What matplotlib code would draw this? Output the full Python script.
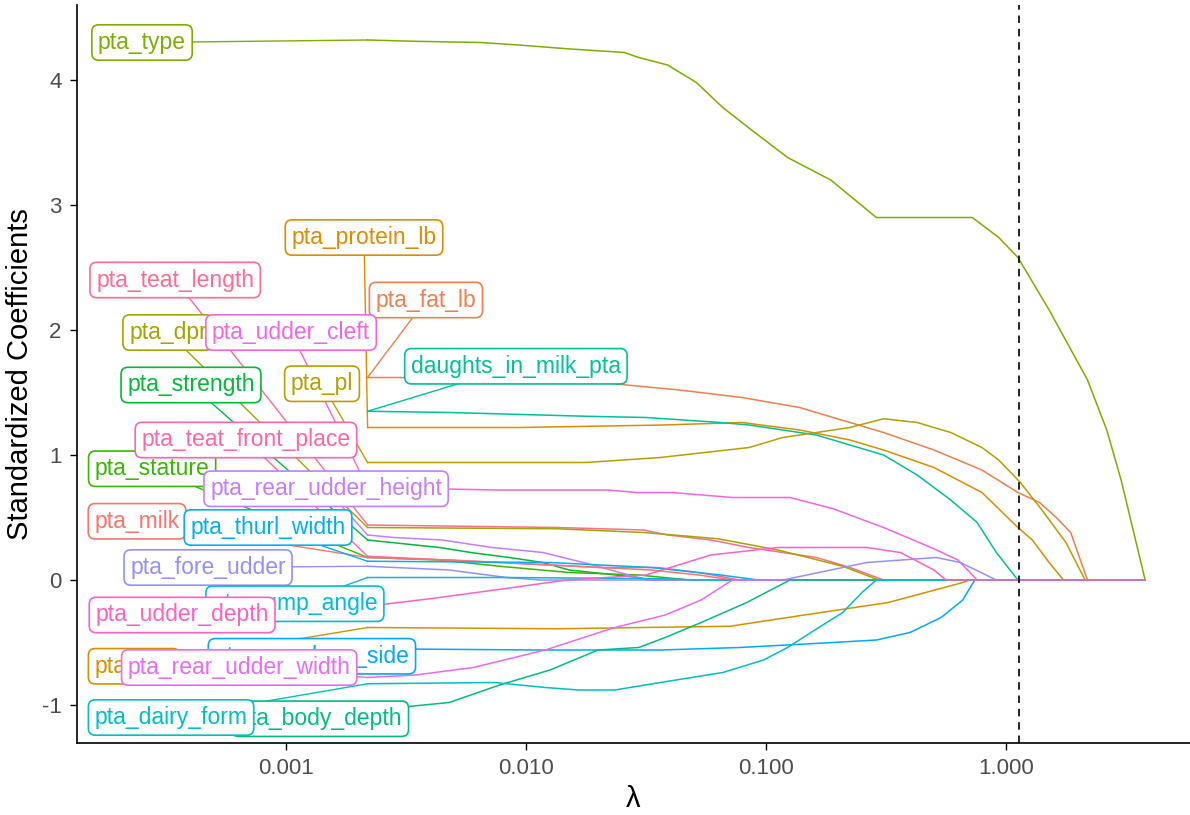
"""Lasso coefficient paths (standardized) vs lambda, with repelled-style labels."""
import numpy as np
import matplotlib
matplotlib.use("Agg")
import matplotlib.pyplot as plt

plt.rcParams["font.family"] = ["Liberation Sans", "DejaVu Sans"]

LOGLAM_MAX = 0.58     # right end of the path (all coefficients 0 there)
LOGLAM_CV = 0.054     # dashed vertical line

# --- path knots: log10(lambda) and standardized coefficient -------------------
type_loglam = [-2.66, -2.47, -2.19, -2.03, -1.83, -1.59, -1.53, -1.41, -1.29, -1.18, -1.06,
               -0.91, -0.73, -0.54, -0.14, -0.03, 0.05, 0.18, 0.34, 0.42, 0.48, 0.52, 0.58]
type_coef = [4.32, 4.31, 4.30, 4.28, 4.25, 4.22, 4.18, 4.12, 3.98, 3.78, 3.60,
             3.38, 3.20, 2.90, 2.90, 2.74, 2.58, 2.16, 1.60, 1.20, 0.80, 0.48, 0.0]

fat_loglam = [-2.66, -2.53, -1.69, -1.36, -1.10, -0.86, -0.65, -0.51, -0.30, -0.10,
              0.05, 0.14, 0.21, 0.27, 0.31, 0.34]
fat_coef = [1.62, 1.62, 1.58, 1.52, 1.46, 1.38, 1.26, 1.18, 1.04, 0.88,
            0.70, 0.62, 0.50, 0.38, 0.16, 0.0]

protein_loglam = [-2.66, -2.03, -1.43, -1.10, -0.86, -0.65, -0.51, -0.30, -0.10, 0.05, 0.11, 0.18, 0.24]
protein_coef = [1.22, 1.22, 1.24, 1.26, 1.20, 1.12, 1.04, 0.90, 0.70, 0.42, 0.32, 0.14, 0.0]

daughts_loglam = [-2.66, -2.32, -1.75, -1.50, -1.19, -1.07, -0.79, -0.65, -0.51, -0.37,
                  -0.23, -0.12, -0.04, 0.05]
daughts_coef = [1.35, 1.34, 1.31, 1.30, 1.26, 1.24, 1.16, 1.08, 1.00, 0.84,
                0.64, 0.46, 0.22, 0.0]

pl_loglam = [-2.66, -1.75, -1.44, -1.07, -0.93, -0.79, -0.65, -0.51, -0.37, -0.23,
             -0.10, -0.03, 0.06, 0.15, 0.25, 0.33]
pl_coef = [0.94, 0.94, 0.98, 1.06, 1.14, 1.18, 1.22, 1.29, 1.26, 1.18,
           1.06, 0.96, 0.78, 0.56, 0.30, 0.0]

udder_cleft_loglam = [-2.66, -2.12, -1.66, -1.54, -1.39, -1.14, -0.90, -0.72, -0.51, -0.30, -0.20, -0.12]
udder_cleft_coef = [0.74, 0.72, 0.72, 0.70, 0.70, 0.66, 0.66, 0.57, 0.42, 0.25, 0.16, 0.0]

teat_length_loglam = [-2.66, -1.87, -1.51, -1.41, -1.23, -1.07, -0.79, -0.65, -0.51]
teat_length_coef = [0.44, 0.42, 0.40, 0.36, 0.32, 0.26, 0.18, 0.10, 0.0]

dpr_loglam = [-2.66, -1.87, -1.51, -1.20, -0.95, -0.68, -0.53]
dpr_coef = [0.42, 0.41, 0.38, 0.33, 0.24, 0.11, 0.0]

rear_udder_height_loglam = [-2.66, -2.55, -2.35, -2.14, -1.93, -1.72, -1.61, -1.50]
rear_udder_height_coef = [0.36, 0.34, 0.32, 0.26, 0.22, 0.12, 0.06, 0.0]

strength_loglam = [-2.66, -2.36, -2.23, -2.07, -1.93, -1.82, -1.53, -1.48]
strength_coef = [0.32, 0.26, 0.22, 0.18, 0.14, 0.08, 0.02, 0.0]

stature_loglam = [-2.66, -2.36, -2.11, -1.82, -1.53, -1.32]
stature_coef = [0.18, 0.16, 0.11, 0.06, 0.04, 0.0]

milk_loglam = [-2.66, -2.32, -1.90, -1.48, -1.28, -1.14]
milk_coef = [0.18, 0.16, 0.12, 0.08, 0.04, 0.0]

teat_front_loglam = [-2.66, -2.11, -1.69, -1.45, -1.28, -1.11]
teat_front_coef = [0.19, 0.14, 0.10, 0.10, 0.06, 0.0]

thurl_loglam = [-2.66, -1.90, -1.48, -1.19, -1.03]
thurl_coef = [0.15, 0.14, 0.10, 0.04, 0.0]

fore_udder_loglam = [-2.66, -2.32, -2.08, -1.94, -0.93, -0.58, -0.29, -0.19, -0.04]
fore_udder_coef = [0.11, 0.08, 0.02, 0.0, 0.0, 0.14, 0.18, 0.14, 0.0]

rump_angle_loglam = [-2.66, -2.08, -1.43, -1.28]
rump_angle_coef = [0.02, 0.02, 0.01, 0.0]

udder_depth_loglam = [-2.66, -2.40, -2.13, -1.83, -1.50, -1.23, -0.95, -0.58, -0.44, -0.30, -0.25]
udder_depth_coef = [-0.21, -0.15, -0.08, 0.0, 0.04, 0.20, 0.26, 0.26, 0.22, 0.08, 0.0]

scs_loglam = [-2.66, -1.87, -1.15, -0.84, -0.49, -0.18, -0.15]
scs_coef = [-0.38, -0.39, -0.37, -0.28, -0.18, -0.02, 0.0]

rear_legs_loglam = [-2.66, -1.94, -1.44, -1.11, -0.72, -0.54, -0.40, -0.27, -0.18, -0.13]
rear_legs_coef = [-0.55, -0.56, -0.56, -0.54, -0.50, -0.48, -0.42, -0.30, -0.16, 0.0]

rear_udder_width_loglam = [-2.66, -2.46, -2.22, -1.92, -1.63, -1.42, -1.27, -1.14]
rear_udder_width_coef = [-0.78, -0.76, -0.70, -0.56, -0.38, -0.28, -0.16, 0.0]

body_depth_loglam = [-2.66, -2.48, -2.32, -2.11, -1.90, -1.70, -1.53, -1.42, -1.27, -1.08, -0.90]
body_depth_coef = [-1.06, -1.01, -0.98, -0.84, -0.72, -0.56, -0.54, -0.46, -0.34, -0.18, 0.0]

dairy_form_loglam = [-2.66, -2.13, -1.92, -1.78, -1.63, -1.44, -1.18, -1.01, -0.91, -0.78,
                     -0.68, -0.60, -0.54]
dairy_form_coef = [-0.83, -0.82, -0.86, -0.88, -0.88, -0.82, -0.74, -0.64, -0.54, -0.38,
                   -0.26, -0.10, 0.0]

# name, knots, line colour, label centre (log10 lambda, coef)
PATHS = [
    ("pta_type", type_loglam, type_coef, "#7CAE00", (-3.60, 4.30)),
    ("pta_protein_lb", protein_loglam, protein_coef, "#E08B00", (-2.675, 2.74)),
    ("pta_fat_lb", fat_loglam, fat_coef, "#F07E4F", (-2.417, 2.24)),
    ("pta_teat_length", teat_length_loglam, teat_length_coef, "#FF6C91", (-3.462, 2.40)),
    ("pta_dpr", dpr_loglam, dpr_coef, "#A3A500", (-3.492, 1.98)),
    ("pta_udder_cleft", udder_cleft_loglam, udder_cleft_coef, "#F564E3", (-2.979, 1.98)),
    ("daughts_in_milk_pta", daughts_loglam, daughts_coef, "#00C19A", (-2.042, 1.71)),
    ("pta_strength", strength_loglam, strength_coef, "#00BA38", (-3.396, 1.56)),
    ("pta_pl", pl_loglam, pl_coef, "#B79F00", (-2.850, 1.57)),
    ("pta_stature", stature_loglam, stature_coef, "#39B600", (-3.558, 0.89)),
    ("pta_teat_front_place", teat_front_loglam, teat_front_coef, "#FF65AC", (-3.167, 1.12)),
    ("pta_rear_udder_height", rear_udder_height_loglam, rear_udder_height_coef, "#C77CFF", (-2.833, 0.73)),
    ("pta_milk", milk_loglam, milk_coef, "#F8766D", (-3.621, 0.47)),
    ("pta_thurl_width", thurl_loglam, thurl_coef, "#00B0F6", (-3.075, 0.42)),
    ("pta_fore_udder", fore_udder_loglam, fore_udder_coef, "#9590FF", (-3.325, 0.10)),
    ("pta_rump_angle", rump_angle_loglam, rump_angle_coef, "#00BCD8", (-2.963, -0.19)),
    ("pta_scs", scs_loglam, scs_coef, "#D89000", (-3.633, -0.69)),
    ("pta_rear_legs_side", rear_legs_loglam, rear_legs_coef, "#00A9FF", (-2.892, -0.61)),
    ("pta_rear_udder_width", rear_udder_width_loglam, rear_udder_width_coef, "#E76BF3", (-3.195, -0.70)),
    ("pta_body_depth", body_depth_loglam, body_depth_coef, "#00BF7D", (-2.858, -1.11)),
    ("pta_dairy_form", dairy_form_loglam, dairy_form_coef, "#00BFC4", (-3.479, -1.10)),
    ("pta_udder_depth", udder_depth_loglam, udder_depth_coef, "#FF61C3", (-3.433, -0.28)),
]

fig = plt.figure(figsize=(11.9, 8.15), dpi=100)
ax = fig.add_axes([77 / 1190, 1 - 743 / 815, 1113 / 1190, 738 / 815])

for name, loglam, coef, color, _ in PATHS:
    lam = 10 ** np.append(loglam, LOGLAM_MAX)
    ax.plot(lam, np.append(coef, 0.0), color=color, lw=1.1, zorder=2)

ax.axvline(10 ** LOGLAM_CV, color="black", lw=1.2, ls=(0, (4.5, 3.5)), zorder=3)

# leaders (under every label), then labels in draw order
for name, loglam, coef, color, (lx, ly) in PATHS:
    ax.plot([10 ** lx, 10 ** loglam[0]], [ly, coef[0]], color=color, lw=1.0, zorder=4)
for i, (name, loglam, coef, color, (lx, ly)) in enumerate(PATHS):
    ax.text(10 ** lx, ly, name, color=color, fontsize=16.5, ha="center", va="center",
            zorder=10 + i,
            bbox=dict(boxstyle="round,pad=0.27,rounding_size=0.3", fc="white", ec=color, lw=1.2))

ax.set_xscale("log")
ax.set_xlim(10 ** -3.871, 10 ** 0.767)
ax.set_ylim(-1.304, 4.6)
ax.set_xticks([0.001, 0.01, 0.1, 1.0])
ax.set_xticklabels(["0.001", "0.010", "0.100", "1.000"])
ax.xaxis.set_minor_locator(matplotlib.ticker.NullLocator())
ax.set_yticks([-1, 0, 1, 2, 3, 4])
ax.set_yticklabels(["-1", "0", "1", "2", "3", "4"])
ax.tick_params(axis="both", labelsize=16, labelcolor="#4D4D4D", color="black",
               length=5, width=1.0, pad=6)
for side in ("top", "right"):
    ax.spines[side].set_visible(False)
for side in ("left", "bottom"):
    ax.spines[side].set_linewidth(1.2)

ax.set_xlabel("λ", fontsize=21, labelpad=4)
ax.set_ylabel("Standardized Coefficients", fontsize=21, labelpad=6)

fig.savefig("out.png", dpi=100)
